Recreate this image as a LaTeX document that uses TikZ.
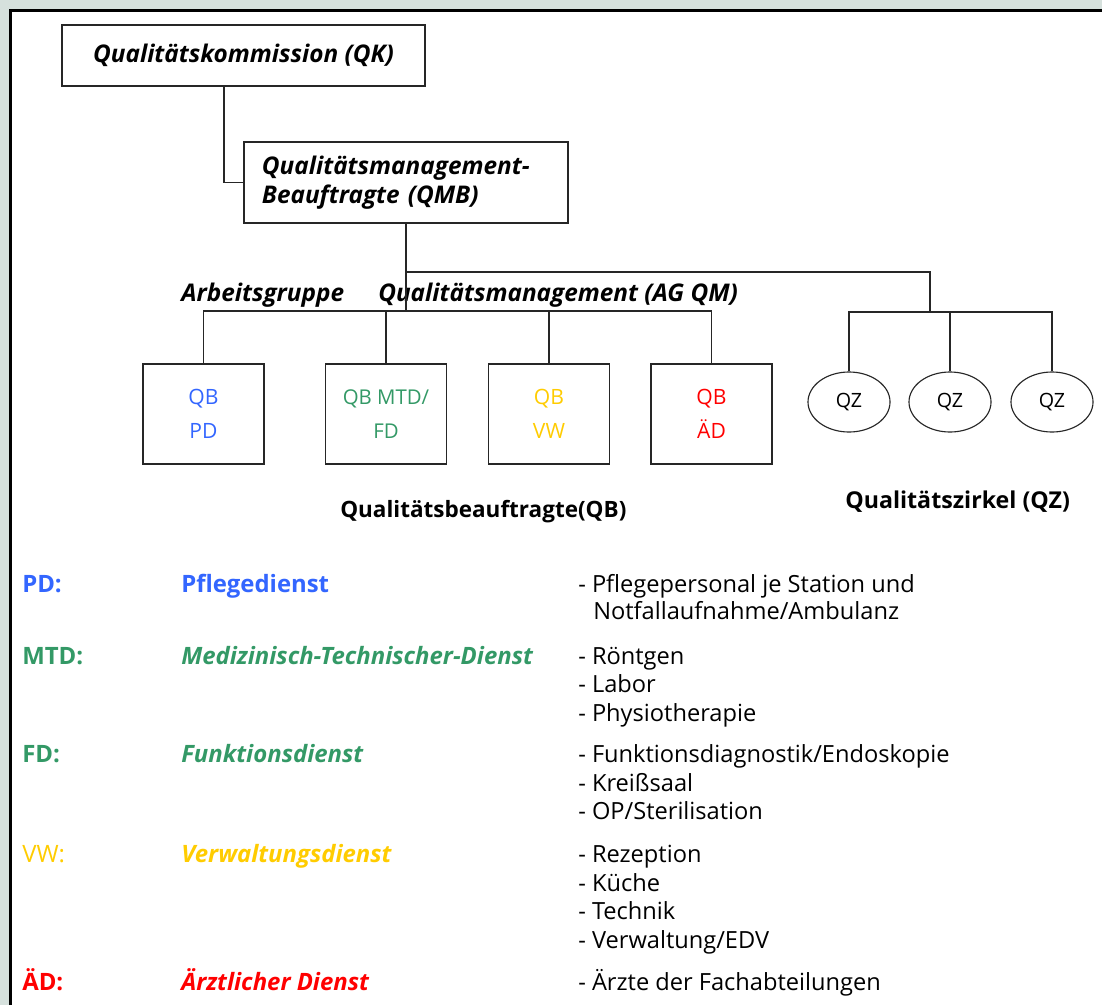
\documentclass[tikz,border=0pt]{standalone}
\usepackage{fontspec}
\setmainfont{Open Sans}
\usetikzlibrary{shapes.geometric}
\definecolor{pageback}{HTML}{D6E1DD}
\definecolor{pdblue}{HTML}{3366FF}
\definecolor{mtdgreen}{HTML}{339966}
\definecolor{vwyellow}{HTML}{FFCC00}
\definecolor{adred}{HTML}{FF0000}

\begin{document}
\begin{tikzpicture}[x=0.025cm,y=-0.025cm,
	conn/.style={draw=black!85,line width=0.9pt},
	orgbox/.style={draw=black!85,line width=0.9pt,fill=white,inner sep=0pt},
	head/.style={font=\fontsize{17.3}{21}\selectfont\bfseries\itshape},
	qbbox/.style={orgbox,minimum width=3.025cm,minimum height=2.5cm,align=center,font=\fontsize{15}{24.5}\selectfont},
	qzell/.style={ellipse,draw=black!85,line width=0.8pt,minimum width=2.05cm,minimum height=1.5cm,inner sep=0pt,font=\fontsize{14}{16}\selectfont},
	legend/.style={anchor=base west,inner sep=0pt,font=\fontsize{16.8}{20}\selectfont},
	legbold/.style={legend,font=\fontsize{17}{20}\selectfont\bfseries},
	legname/.style={legend,font=\fontsize{17}{20}\selectfont\bfseries\itshape}]
	\useasboundingbox (0,0) rectangle (1102,1005);
	%page frame
	\fill[pageback] (0,0) rectangle (1102,1005);
	\fill[white] (10.7,10.7) rectangle (1102,1005);
	\draw[line width=1.8pt] (10.7,1005) -- (10.7,10.7) -- (1102,10.7);
	
	%top boxes
	\node[orgbox,head,minimum width=9.075cm,minimum height=1.525cm] (qk) at (243.5,55.5) {Qualitätskommission (QK)};
	\node[orgbox,head,minimum height=2.025cm,text width=7.2cm,inner xsep=0.45cm,align=left] (qmb) at (406,182.5)
		{Qualitätsmanagement-\\Beauftragte (QMB)};
	
	%arbeitsgruppe label
	\node[head,anchor=base west,inner sep=0pt] (agleft) at (181,301) {Arbeitsgruppe};
	\node[head,anchor=base west,inner sep=0pt] (agright) at (378,301) {Qualitätsmanagement (AG QM)};
	
	%QB boxes
	\node[qbbox,text=pdblue] (qbpd) at (203.5,414) {QB\\PD};
	\node[qbbox,text=mtdgreen,font=\fontsize{14.5}{24}\selectfont] (qbmtd) at (386,414) {QB MTD/\\FD};
	\node[qbbox,text=vwyellow] (qbvw) at (549,414) {QB\\VW};
	\node[qbbox,text=adred] (qbad) at (711.5,414) {QB\\ÄD};
	
	%QZ circles
	\node[qzell] (qza) at (849,402) {QZ};
	\node[qzell] (qzb) at (950,402) {QZ};
	\node[qzell] (qzc) at (1052,402) {QZ};
	
	%group labels
	\node[anchor=base west,inner sep=0pt,font=\fontsize{16}{19}\selectfont\bfseries] (qblabel) at (340,517) {Qualitätsbeauftragte(QB)};
	\node[anchor=base west,inner sep=0pt,font=\fontsize{16.5}{19}\selectfont\bfseries] (qzlabel) at (845,508) {Qualitätszirkel (QZ)};
	
	%connectors
	\coordinate (qbjoin) at (406,311);
	\coordinate (qzturn) at (930,272);
	\coordinate (qzjoin) at (930,312);
	\draw[conn] (qk.south -| 224,0) |- (qmb.west);
	\draw[conn] (qmb.south) -- (qbjoin);
	\draw[conn] (qbpd.north) |- (qbjoin) -| (qbad.north);
	\draw[conn] (qbmtd.north) -- (qbmtd.north |- qbjoin);
	\draw[conn] (qbvw.north) -- (qbvw.north |- qbjoin);
	\draw[conn] (qmb.south |- qzturn) -- (qzturn) -- (qzjoin);
	\draw[conn] (qza.north) |- (qzjoin) -| (qzc.north);
	\draw[conn] (qzb.north) -- (qzb.north |- qzjoin);
	
	%legend - abbreviations
	\node[legbold,text=pdblue] (abpd) at (22,592) {PD:};
	\node[legbold,text=mtdgreen] (abmtd) at (22,664) {MTD:};
	\node[legbold,text=mtdgreen] (abfd) at (22,762) {FD:};
	\node[legend,text=vwyellow,font=\fontsize{17}{20}\selectfont] (abvw) at (22,862) {VW:};
	\node[legbold,text=adred] (abad) at (22,990) {ÄD:};
	%legend - names
	\node[legbold,text=pdblue] (nmpd) at (181,592) {Pflegedienst};
	\node[legname,text=mtdgreen] (nmmtd) at (181,664) {Medizinisch-Technischer-Dienst};
	\node[legname,text=mtdgreen] (nmfd) at (181,762) {Funktionsdienst};
	\node[legname,text=vwyellow] (nmvw) at (181,862) {Verwaltungsdienst};
	\node[legname,text=adred] (nmad) at (181,990) {Ärztlicher Dienst};
	%legend - units
	\node[legend] (ua) at (578,592) {- Pflegepersonal je Station und};
	\node[legend] (ub) at (593,619) {Notfallaufnahme/Ambulanz};
	\node[legend] (uc) at (578,664) {- Röntgen};
	\node[legend] (ud) at (578,692) {- Labor};
	\node[legend] (ue) at (578,721) {- Physiotherapie};
	\node[legend] (uf) at (578,762) {- Funktionsdiagnostik/Endoskopie};
	\node[legend] (ug) at (578,791) {- Kreißsaal};
	\node[legend] (uh) at (578,819) {- OP/Sterilisation};
	\node[legend] (ui) at (578,862) {- Rezeption};
	\node[legend] (uj) at (578,891) {- Küche};
	\node[legend] (uk) at (578,919) {- Technik};
	\node[legend] (ul) at (578,948) {- Verwaltung/EDV};
	\node[legend] (um) at (578,990) {- Ärzte der Fachabteilungen};
\end{tikzpicture}
\end{document}
